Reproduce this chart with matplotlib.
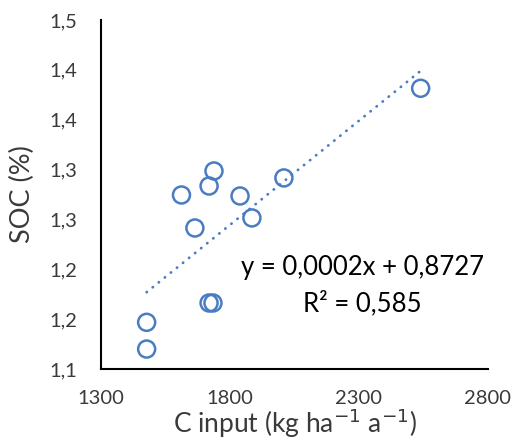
import matplotlib
matplotlib.use("Agg")
import matplotlib.pyplot as plt
import numpy as np

# data
c_input = [1612, 1664, 1719, 1738, 1839, 1885, 2009, 2539, 1719, 1734, 1477, 1477]
soc = [1.2745, 1.2414, 1.2835, 1.2986, 1.2735, 1.2515, 1.2916, 1.3815, 1.1662, 1.1662, 1.1468, 1.120]

x_ticks = [1300, 1800, 2300, 2800]
y_ticks = [1.10, 1.15, 1.20, 1.25, 1.30, 1.35, 1.40, 1.45]
y_tick_labels = ["1,1", "1,2", "1,2", "1,3", "1,3", "1,4", "1,4", "1,5"]

blue = "#4A7CC2"
text_col = "#3A3A3A"
plt.rcParams["font.family"] = ["Lato", "DejaVu Sans"]

fig = plt.figure(figsize=(5.16, 4.47), dpi=100)
ax = fig.add_axes([0.1957, 0.1745, 0.75, 0.7808])

ax.scatter(c_input, soc, s=150, facecolors="none", edgecolors=blue, linewidths=1.8, zorder=3)

# linear trendline (Excel style)
k, b = np.polyfit(c_input, soc, 1)
xs = np.array([min(c_input), max(c_input)])
ax.plot(xs, k * xs + b, color=blue, lw=2.0, linestyle=(0, (0.1, 2.7)),
        dash_capstyle="round", zorder=2)

ax.text(0.677, 0.292, "y = 0,0002x + 0,8727", transform=ax.transAxes,
        ha="center", va="center", fontsize=18.5, color="black")
ax.text(0.675, 0.189, "R² = 0,585", transform=ax.transAxes,
        ha="center", va="center", fontsize=18.5, color="black")

ax.set_xlim(1300, 2800)
ax.set_ylim(1.10, 1.45)
ax.set_xticks(x_ticks)
ax.set_yticks(y_ticks)
ax.set_yticklabels(y_tick_labels)
ax.tick_params(length=0, labelsize=14.5, pad=15, colors=text_col)
ax.tick_params(axis="y", pad=17)

ax.spines["top"].set_visible(False)
ax.spines["right"].set_visible(False)
for s in ("left", "bottom"):
    ax.spines[s].set_color("black")
    ax.spines[s].set_linewidth(1.5)

ax.set_xlabel("C input (kg ha$^{-1}$ a$^{-1}$)", fontsize=19, labelpad=0, color=text_col)
ax.set_ylabel("SOC (%)", fontsize=19.5, color=text_col)
ax.yaxis.set_label_coords(-0.17, 0.5)

fig.savefig("out.png", dpi=100)
